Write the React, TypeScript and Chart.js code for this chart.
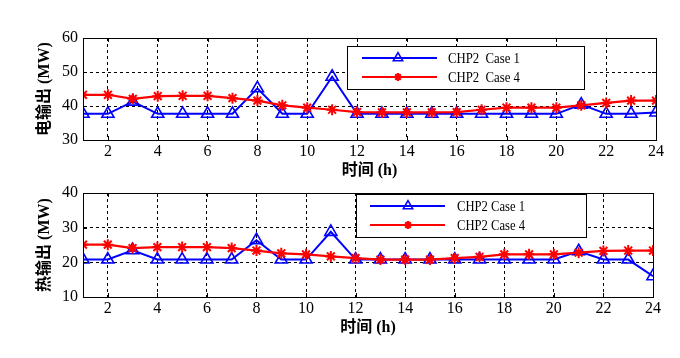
import React, { useEffect, useRef } from "react";
import { Chart, registerables } from "chart.js";

Chart.register(...registerables);

const hours = [1, 2, 3, 4, 5, 6, 7, 8, 9, 10, 11, 12, 13, 14, 15, 16, 17, 18, 19, 20, 21, 22, 23, 24];
const xTickValues = [2, 4, 6, 8, 10, 12, 14, 16, 18, 20, 22, 24];

const elecCase1 = [37.7, 37.7, 41.3, 37.7, 37.7, 37.7, 37.7, 45.2, 37.7, 37.7, 48.6, 37.7, 37.7, 37.7, 37.7, 37.7, 37.7, 37.7, 37.7, 37.7, 40.4, 37.7, 37.7, 38.1];
const elecCase4 = [43.3, 43.3, 42.1, 42.9, 43.0, 43.0, 42.3, 41.6, 40.2, 39.5, 38.9, 38.2, 38.1, 38.1, 38.1, 38.2, 38.9, 39.5, 39.5, 39.5, 40.2, 40.9, 41.6, 41.6];
const heatCase1 = [20.8, 20.8, 23.5, 20.8, 20.8, 20.8, 20.8, 26.4, 20.8, 20.8, 28.8, 20.8, 20.8, 20.8, 20.8, 20.8, 20.8, 20.8, 20.8, 20.8, 23.2, 20.8, 20.8, 16.0];
const heatCase4 = [25.1, 25.1, 24.1, 24.4, 24.4, 24.4, 24.1, 23.4, 22.6, 22.3, 21.7, 21.2, 20.8, 20.8, 20.8, 21.2, 21.6, 22.3, 22.3, 22.3, 22.8, 23.3, 23.4, 23.4];

const topLegendLabels = ["CHP2  Case 1", "CHP2  Case 4"];
const bottomLegendLabels = ["CHP2 Case 1", "CHP2 Case 4"];

const SERIF = "'Liberation Serif', 'Times New Roman', 'Noto Sans CJK SC', serif";
const BLUE = "#0000ff";
const RED = "#ff0000";

function drawTri(ctx: CanvasRenderingContext2D, x: number, y: number, r: number) {
  ctx.beginPath();
  for (let k = 0; k < 3; k++) {
    const a = (k * 2 * Math.PI) / 3;
    const px = x + Math.sin(a) * r;
    const py = y - Math.cos(a) * r;
    if (k === 0) ctx.moveTo(px, py);
    else ctx.lineTo(px, py);
  }
  ctx.closePath();
  ctx.stroke();
}

function drawStar(ctx: CanvasRenderingContext2D, x: number, y: number, r: number) {
  ctx.beginPath();
  ctx.moveTo(x - r, y);
  ctx.lineTo(x + r, y);
  ctx.moveTo(x, y - r);
  ctx.lineTo(x, y + r);
  const d = r * 0.7;
  ctx.moveTo(x - d, y - d);
  ctx.lineTo(x + d, y + d);
  ctx.moveTo(x - d, y + d);
  ctx.lineTo(x + d, y - d);
  ctx.stroke();
}

const framePlugin = {
  id: "frame",
  afterDraw(chart: any, _args: any, opts: any) {
    const { ctx, chartArea } = chart;
    const { left, right, top, bottom } = chartArea;
    ctx.save();
    ctx.strokeStyle = "#000";
    ctx.lineWidth = 1;
    ctx.setLineDash([]);
    ctx.strokeRect(Math.round(left) + 0.5, Math.round(top) + 0.5, Math.round(right - left), Math.round(bottom - top));
    const tl = 4;
    const xs = chart.scales.x;
    const ys = chart.scales.y;
    ctx.beginPath();
    xs.ticks.forEach((t: any) => {
      const px = Math.round(xs.getPixelForValue(t.value)) + 0.5;
      ctx.moveTo(px, bottom);
      ctx.lineTo(px, bottom - tl);
      ctx.moveTo(px, top);
      ctx.lineTo(px, top + tl);
    });
    ys.ticks.forEach((t: any) => {
      const py = Math.round(ys.getPixelForValue(t.value)) + 0.5;
      ctx.moveTo(left, py);
      ctx.lineTo(left + tl, py);
      ctx.moveTo(right, py);
      ctx.lineTo(right - tl, py);
    });
    ctx.stroke();

    const lg = opts.legend;
    if (lg) {
      ctx.fillStyle = "#fff";
      ctx.fillRect(lg.x, lg.y, lg.w, lg.h);
      ctx.strokeStyle = "#000";
      ctx.lineWidth = 1;
      ctx.strokeRect(lg.x + 0.5, lg.y + 0.5, lg.w, lg.h);
      lg.rows.forEach((row: any, i: number) => {
        const y = lg.rowY[i];
        ctx.strokeStyle = row.color;
        ctx.lineWidth = 2;
        ctx.beginPath();
        ctx.moveTo(lg.lineX0, y);
        ctx.lineTo(lg.lineX1, y);
        ctx.stroke();
        if (row.marker === "tri") {
          ctx.lineWidth = 1.5;
          drawTri(ctx, lg.markerX, y, 5.5);
        } else {
          ctx.lineWidth = 2.2;
          drawStar(ctx, lg.markerX, y, 4);
        }
        ctx.fillStyle = "#000";
        ctx.font = "14px " + SERIF;
        ctx.textBaseline = "middle";
        ctx.textAlign = "left";
        ctx.fillText(row.label, lg.textX, y + 1, lg.textW);
      });
    }
    ctx.restore();
  },
};

function buildConfig(p: {
  c1: number[];
  c4: number[];
  yMin: number;
  yMax: number;
  yTitle: string;
  padTop: number;
  padRight: number;
  xHeight: number;
  xTitlePadBottom: number;
  legend: any;
}) {
  const tickFont = { family: SERIF, size: 16, lineHeight: 1 };
  const titleFont = { family: SERIF, size: 16, weight: "bold" as const, lineHeight: 1.2 };
  return {
    type: "line" as const,
    data: {
      datasets: [
        {
          label: "CHP2 Case 1",
          data: hours.map((h, i) => ({ x: h, y: p.c1[i] })),
          borderColor: BLUE,
          backgroundColor: "rgba(0,0,0,0)",
          borderWidth: 2,
          pointStyle: "triangle",
          pointRadius: 7,
          pointBorderWidth: 1.6,
          pointBorderColor: BLUE,
          pointBackgroundColor: "rgba(0,0,0,0)",
          tension: 0,
          order: 2,
        },
        {
          label: "CHP2 Case 4",
          data: hours.map((h, i) => ({ x: h, y: p.c4[i] })),
          borderColor: RED,
          backgroundColor: RED,
          borderWidth: 2.2,
          pointStyle: "star",
          pointRadius: 5.5,
          pointBorderWidth: 2,
          pointBorderColor: RED,
          pointBackgroundColor: RED,
          tension: 0,
          order: 1,
        },
      ],
    },
    options: {
      animation: false as const,
      responsive: false,
      maintainAspectRatio: false,
      layout: { padding: { left: 0, right: p.padRight, top: p.padTop, bottom: 0 } },
      plugins: {
        legend: { display: false },
        tooltip: { enabled: false },
        frame: { legend: p.legend },
      },
      scales: {
        x: {
          type: "linear" as const,
          min: 1,
          max: 24,
          afterBuildTicks: (s: any) => {
            s.ticks = xTickValues.map((v) => ({ value: v }));
          },
          afterFit: (s: any) => {
            s.height = p.xHeight;
          },
          ticks: { font: tickFont, color: "#000", padding: 4, maxRotation: 0, autoSkip: false },
          grid: { color: "#000", lineWidth: 1, drawTicks: false },
          border: { display: true, color: "#000", dash: [3, 3] },
          title: {
            display: true,
            text: "时间 (h)",
            font: titleFont,
            color: "#000",
            padding: { top: 0, bottom: p.xTitlePadBottom },
          },
        },
        y: {
          type: "linear" as const,
          min: p.yMin,
          max: p.yMax,
          afterFit: (s: any) => {
            s.width = 83;
          },
          ticks: { font: tickFont, color: "#000", padding: 5, stepSize: 10 },
          grid: { color: "#000", lineWidth: 1, drawTicks: false },
          border: { display: true, color: "#000", dash: [3, 3] },
          title: {
            display: true,
            text: p.yTitle,
            font: titleFont,
            color: "#000",
            padding: { top: 35, bottom: 0 },
          },
        },
      },
    },
    plugins: [framePlugin],
  };
}

function ChartCanvas({ config, width, height }: { config: any; width: number; height: number }) {
  const ref = useRef<HTMLCanvasElement | null>(null);
  useEffect(() => {
    if (!ref.current) return;
    const chart = new Chart(ref.current, config);
    return () => chart.destroy();
  }, []);
  return <canvas ref={ref} width={width} height={height} style={{ display: "block", width, height }} />;
}

export default function App() {
  const topConfig = buildConfig({
    c1: elecCase1,
    c4: elecCase4,
    yMin: 30,
    yMax: 60,
    yTitle: "电输出 (MW)",
    padTop: 38,
    padRight: 24,
    xHeight: 40,
    xTitlePadBottom: 0,
    legend: {
      x: 347,
      y: 46,
      w: 237,
      h: 43,
      rowY: [58, 77],
      lineX0: 362,
      lineX1: 437,
      markerX: 398,
      textX: 448,
      textW: 72,
      rows: [
        { label: topLegendLabels[0], color: BLUE, marker: "tri" },
        { label: topLegendLabels[1], color: RED, marker: "star" },
      ],
    },
  });
  const bottomConfig = buildConfig({
    c1: heatCase1,
    c4: heatCase4,
    yMin: 10,
    yMax: 40,
    yTitle: "热输出 (MW)",
    padTop: 9,
    padRight: 27,
    xHeight: 61,
    xTitlePadBottom: 21,
    legend: {
      x: 356,
      y: 14,
      w: 230,
      h: 43,
      rowY: [26, 45],
      lineX0: 370,
      lineX1: 445,
      markerX: 408,
      textX: 457,
      textW: 68,
      rows: [
        { label: bottomLegendLabels[0], color: BLUE, marker: "tri" },
        { label: bottomLegendLabels[1], color: RED, marker: "star" },
      ],
    },
  });
  return (
    <div style={{ position: "absolute", left: 0, top: 0, width: 680, height: 358, background: "#fff" }}>
      <div style={{ position: "absolute", left: 0, top: 0 }}>
        <ChartCanvas config={topConfig} width={680} height={180} />
      </div>
      <div style={{ position: "absolute", left: 0, top: 180 }}>
        <ChartCanvas config={bottomConfig} width={680} height={178} />
      </div>
    </div>
  );
}
